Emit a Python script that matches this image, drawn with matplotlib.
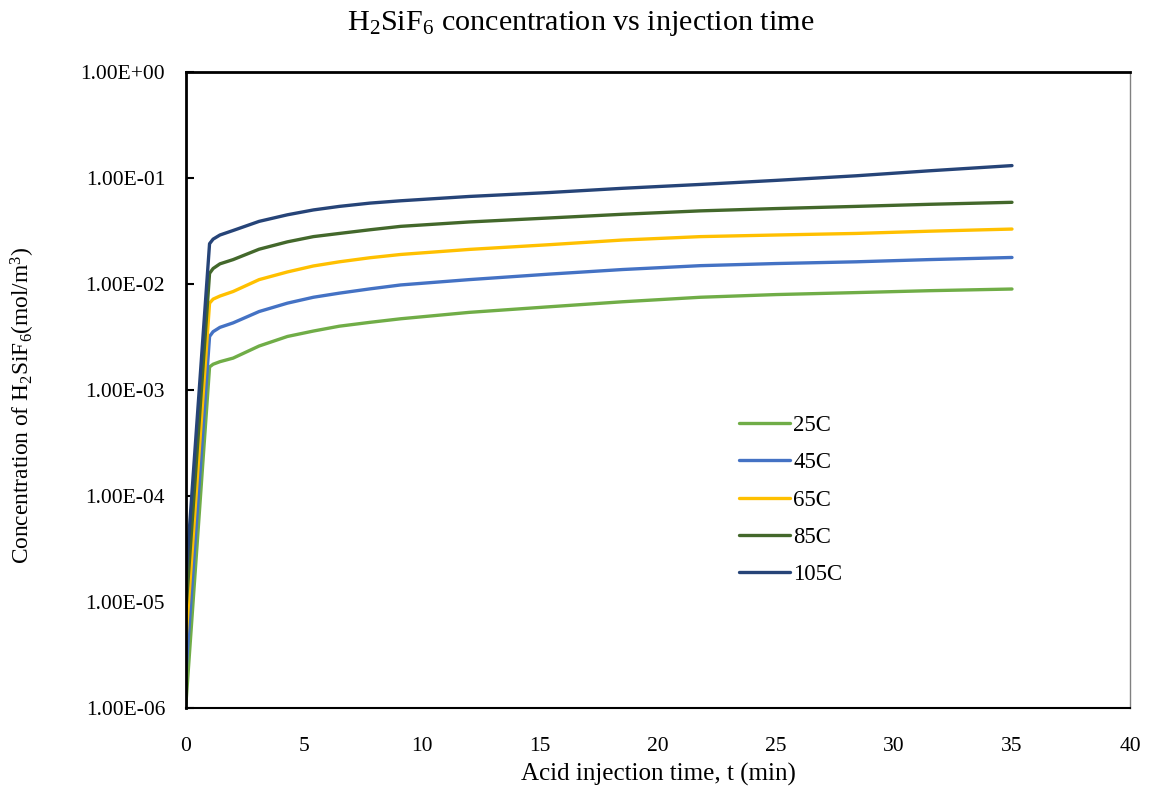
import matplotlib
matplotlib.use("Agg")
import matplotlib.pyplot as plt
from matplotlib.ticker import FuncFormatter, FixedLocator

plt.rcParams['font.family'] = ['Liberation Serif', 'DejaVu Serif']
plt.rcParams['mathtext.fontset'] = 'custom'
plt.rcParams['mathtext.rm'] = 'Liberation Serif'
plt.rcParams['mathtext.it'] = 'Liberation Serif:italic'

# injection time (min)
t = [0, 1.0, 1.15, 1.44, 2.0, 3.1, 4.3, 5.4, 6.5, 7.8, 9.1, 12, 15.4, 18.5, 21.8, 25, 28.4, 31.5, 35]

# H2SiF6 concentration (mol/m3) at each temperature
c_25 = [1.1e-6, 1.65e-3, 1.75e-3, 1.85e-3, 2.0e-3, 2.6e-3, 3.2e-3, 3.6e-3, 4.0e-3, 4.35e-3,
        4.7e-3, 5.4e-3, 6.1e-3, 6.8e-3, 7.5e-3, 7.95e-3, 8.3e-3, 8.65e-3, 8.97e-3]
c_45 = [2.2e-6, 3.2e-3, 3.55e-3, 3.9e-3, 4.3e-3, 5.5e-3, 6.6e-3, 7.5e-3, 8.2e-3, 9.0e-3,
        9.8e-3, 1.1e-2, 1.24e-2, 1.37e-2, 1.49e-2, 1.56e-2, 1.62e-2, 1.70e-2, 1.78e-2]
c_65 = [4.4e-6, 6.6e-3, 7.2e-3, 7.7e-3, 8.5e-3, 1.1e-2, 1.3e-2, 1.48e-2, 1.62e-2, 1.77e-2,
        1.9e-2, 2.12e-2, 2.35e-2, 2.6e-2, 2.8e-2, 2.9e-2, 3.0e-2, 3.15e-2, 3.3e-2]
c_85 = [8.3e-6, 1.26e-2, 1.4e-2, 1.55e-2, 1.7e-2, 2.13e-2, 2.5e-2, 2.8e-2, 3.0e-2, 3.25e-2,
        3.5e-2, 3.85e-2, 4.2e-2, 4.55e-2, 4.9e-2, 5.15e-2, 5.4e-2, 5.65e-2, 5.9e-2]
c_105 = [1.7e-5, 2.4e-2, 2.65e-2, 2.9e-2, 3.2e-2, 3.9e-2, 4.5e-2, 5.0e-2, 5.4e-2, 5.8e-2,
         6.1e-2, 6.7e-2, 7.3e-2, 8.0e-2, 8.7e-2, 9.5e-2, 0.105, 0.117, 0.131]

labels = ['25C', '45C', '65C', '85C', '105C']
colors = ['#70ad47', '#4472c4', '#ffc000', '#43682b', '#264478']
y_ticks = [1e-6, 1e-5, 1e-4, 1e-3, 1e-2, 1e-1, 1e0]
x_ticks = [0, 5, 10, 15, 20, 25, 30, 35, 40]

fig = plt.figure(figsize=(11.5, 7.96), dpi=100)
ax = fig.add_axes([0.1617, 0.1106, 0.8209, 0.7989])

for c, lab, col in zip([c_25, c_45, c_65, c_85, c_105], labels, colors):
    ax.plot(t, c, color=col, lw=2.4, label=lab, solid_capstyle='round')

ax.set_yscale('log')
ax.set_xlim(0, 40)
ax.set_ylim(1e-6, 1e0)
ax.yaxis.set_major_locator(FixedLocator(y_ticks))
ax.yaxis.set_minor_locator(FixedLocator([]))
ax.yaxis.set_major_formatter(FuncFormatter(lambda v, p: f"{v:.2E}"))
ax.set_xticks(x_ticks)

ax.tick_params(axis='y', direction='in', length=6, width=1.5, labelsize=15.5, pad=15)
ax.tick_params(axis='x', length=0, labelsize=15.5, pad=21)

for side in ['left', 'top']:
    ax.spines[side].set_linewidth(2)
    ax.spines[side].set_color('black')
ax.spines['bottom'].set_linewidth(1.5)
ax.spines['right'].set_linewidth(1)
ax.spines['right'].set_color('#808080')

ax.set_xlabel('Acid injection time, t (min)', fontsize=18)
ax.set_ylabel('Concentration of H$_2$SiF$_6$(mol/m$^3$)', fontsize=16.8)
ax.xaxis.set_label_coords(0.5, -0.086)
ax.yaxis.set_label_coords(-0.158, 0.476)
fig.text(0.505, 0.97, 'H$_2$SiF$_6$ concentration vs injection time', fontsize=21.7,
         ha='center', va='center')

ax.legend(loc='upper left', bbox_to_anchor=(0.6426, 0.479), bbox_transform=fig.transFigure,
          frameon=False, fontsize=16.4, handlelength=2.24, handletextpad=0.15,
          labelspacing=0.72, borderpad=0, borderaxespad=0)

fig.savefig('out.png', dpi=100)
